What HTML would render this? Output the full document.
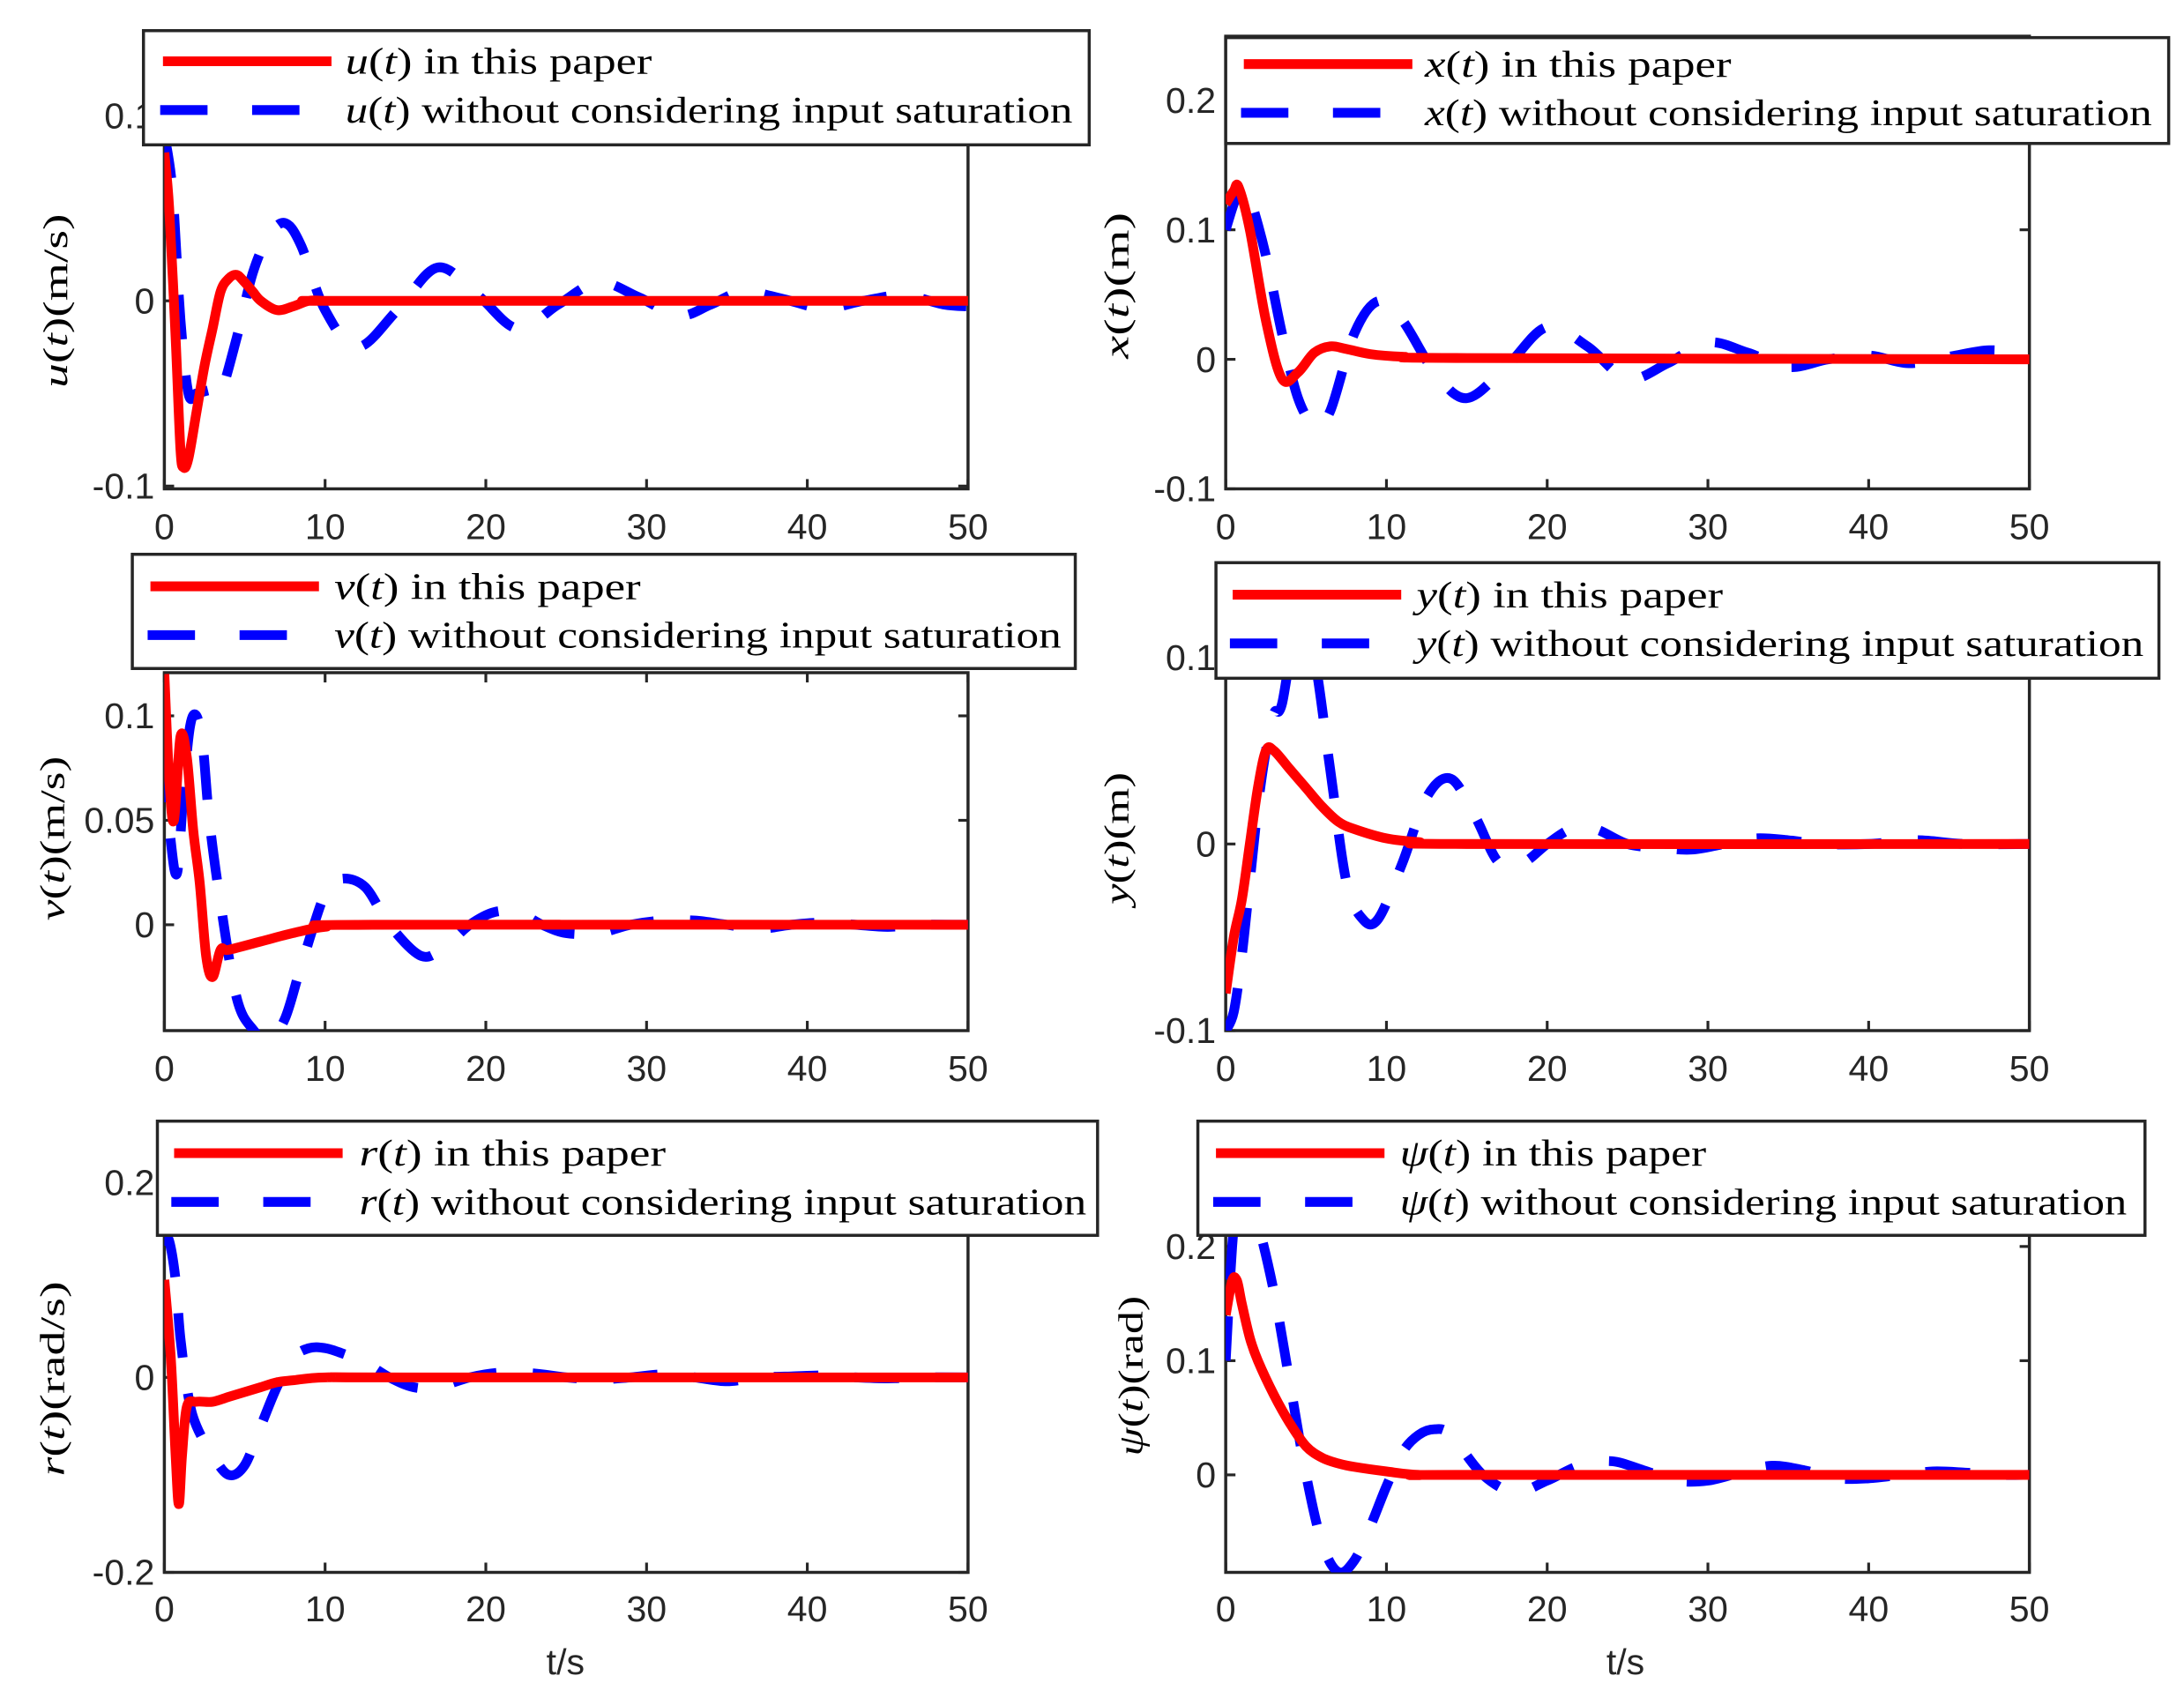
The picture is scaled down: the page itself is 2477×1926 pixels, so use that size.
<!DOCTYPE html>
<html><head><meta charset="utf-8"><style>
html,body{margin:0;padding:0;background:#fff}
svg{display:block}
.tick{font-family:"Liberation Sans",Arial,sans-serif;font-size:26px;fill:#262626}
.leg{font-family:"Liberation Serif",serif;font-size:27px;fill:#000}
.ylab{font-family:"Liberation Serif",serif;font-size:25px;fill:#000}
</style></head><body>
<svg id="fig" xmlns="http://www.w3.org/2000/svg" width="2477" height="1926" viewBox="0 0 1568 1219.2"></svg>
<script>
// ---- data ----
const uRedT=[0,0.3,0.7,1.0,1.2,1.5,2,2.5,3,3.5,4,4.5,5,5.5,6,7,8,9,10,12,50];
const uRedV=[0.08,0.05,-0.02,-0.08,-0.09,-0.085,-0.06,-0.035,-0.015,0.005,0.012,0.014,0.01,0.005,0,-0.005,-0.003,0,0,0,0];
const uBlueT=[0,0.5,1,1.5,2,3,3.5,4.5,5.5,6.5,7.5,8.5,10,12,14.5,17,19.5,22,24.5,27,29.5,32,34,36,38.5,41,43.5,46,48.5,50];
const uBlueV=[0.09,0.06,-0.01,-0.05,-0.05,-0.048,-0.05,-0.02,0.015,0.035,0.042,0.03,-0.005,-0.025,-0.005,0.018,0.003,-0.015,-0.002,0.01,0.002,-0.008,-0.002,0.005,0.001,-0.004,0,0.003,-0.002,-0.003];
const xRedT=[0,0.5,0.8,1.5,2.5,3.5,4.5,5.5,6.5,7.5,9,11,15,50];
const xRedV=[0.12,0.13,0.133,0.1,0.03,-0.015,-0.01,0.005,0.01,0.008,0.004,0.002,0.001,0];
const xBlueT=[0,0.5,1,1.5,2.5,3.5,4.5,5.5,6.5,8,9.5,11,13,15,17.5,20,22.5,25,27.5,30,32.5,35,37.5,40,42.5,45,47.5,50];
const xBlueV=[0.1,0.12,0.135,0.125,0.08,0.02,-0.03,-0.05,-0.04,0.02,0.045,0.03,-0.01,-0.03,-0.005,0.025,0.01,-0.015,-0.003,0.013,0.005,-0.006,0,0.003,-0.003,0.002,0.007,0.004];
const vRedT=[0,0.3,0.6,1,1.4,1.8,2.2,2.6,3,3.5,4,6,8,10,13,50];
const vRedV=[0.12,0.07,0.05,0.09,0.08,0.045,0.02,-0.015,-0.025,-0.012,-0.012,-0.008,-0.004,-0.001,0,0];
const vBlueT=[0,0.4,0.8,1.2,1.6,2,2.4,2.8,3.5,4.5,5.5,6.5,7.5,8.5,10,11,12.5,14,16,17.5,19,20.5,22,23.5,25,27,29,31,33,35,37,39,41,43,45,47,49,50];
const vBlueV=[0.08,0.04,0.025,0.065,0.095,0.1,0.085,0.05,0.01,-0.035,-0.05,-0.055,-0.045,-0.02,0.015,0.022,0.018,0,-0.015,-0.01,0,0.006,0.006,0,-0.004,-0.004,0,0.002,0.002,0,-0.002,0,0.001,0,-0.001,0,0,0];
const yRedT=[0,0.5,1,1.5,2,2.5,3,4,5,6,7,8,10,12,15,50];
const yRedV=[-0.08,-0.05,-0.03,0,0.03,0.05,0.05,0.04,0.03,0.02,0.012,0.008,0.003,0.001,0,0];
const yBlueT=[0,0.5,1,1.5,2,2.5,3,3.5,4.5,5.5,6.5,7.5,8.5,9.5,11,12.5,14,15.5,17,18.5,20,21.5,23,25,27,29,31,33,35,37,40,43,46,50];
const yBlueV=[-0.1,-0.09,-0.06,-0.02,0.02,0.05,0.07,0.075,0.12,0.1,0.04,-0.02,-0.04,-0.04,-0.01,0.025,0.035,0.015,-0.01,-0.01,0,0.008,0.008,0,-0.002,-0.003,0,0.003,0.002,0,0,0.002,0,0];
const rRedT=[0,0.4,0.7,0.9,1.1,1.4,2,3,4,5,6,7,8,10,15,50];
const rRedV=[0.1,0.02,-0.08,-0.13,-0.08,-0.03,-0.025,-0.025,-0.02,-0.015,-0.01,-0.005,-0.003,0,0,0];
const rBlueT=[0,0.3,0.7,1,1.5,2,3,4,5,6,7,8,9,10,11,12.5,14,15.5,17,19,21,23,25,27,29,31,33,35,37,39,41,43,45,47,50];
const rBlueV=[0.14,0.14,0.1,0.04,-0.02,-0.05,-0.08,-0.1,-0.09,-0.05,-0.01,0.02,0.03,0.03,0.025,0.015,0,-0.01,-0.01,0,0.005,0.004,0,-0.002,0,0.003,0,-0.004,0,0.001,0.002,0,-0.001,0,0];
const pRedT=[0,0.4,0.7,1,1.5,2,3,4,5,6,7,8,10,12,15,50];
const pRedV=[0.14,0.17,0.17,0.15,0.12,0.1,0.07,0.045,0.025,0.015,0.01,0.007,0.003,0,0,0];
const pBlueT=[0,0.4,0.8,1.2,2,3,4,5,6,7,8,9,10,11,12,13,14,16,18,20,22,24,26,28,30,32,34,36,38,40,42,44,46,48,50];
const pBlueV=[0.1,0.2,0.25,0.25,0.22,0.16,0.08,0,-0.06,-0.085,-0.075,-0.045,-0.01,0.02,0.035,0.04,0.035,0,-0.015,-0.005,0.008,0.012,0.004,-0.005,-0.005,0.002,0.008,0.004,-0.003,-0.003,0,0.003,0.002,0,0];
const xTicks=[0,10,20,30,40,50];
const uTicks=[-0.1,0,0.1], uTickLabels=["-0.1","0","0.1"];
const xpTicks=[-0.1,0,0.1,0.2], xpTickLabels=["-0.1","0","0.1","0.2"];
const vTicks=[0,0.05,0.1], vTickLabels=["0","0.05","0.1"];
const ypTicks=[-0.1,0,0.1], ypTickLabels=["-0.1","0","0.1"];
const rTicks=[-0.2,0,0.2], rTickLabels=["-0.2","0","0.2"];
const pTicks=[0,0.1,0.2], pTickLabels=["0","0.1","0.2"];

const NS="http://www.w3.org/2000/svg";
const svg=document.getElementById('fig');
function mk(tag,attrs,parent){const e=document.createElementNS(NS,tag);for(const k in attrs)e.setAttribute(k,attrs[k]);(parent||svg).appendChild(e);return e;}
function spline(pts){let d="M"+pts[0][0].toFixed(2)+","+pts[0][1].toFixed(2);
 for(let i=0;i<pts.length-1;i++){const p0=pts[Math.max(0,i-1)],p1=pts[i],p2=pts[i+1],p3=pts[Math.min(pts.length-1,i+2)];
  const c1=[p1[0]+(p2[0]-p0[0])/6,p1[1]+(p2[1]-p0[1])/6],c2=[p2[0]-(p3[0]-p1[0])/6,p2[1]-(p3[1]-p1[1])/6];
  d+="C"+c1[0].toFixed(2)+","+c1[1].toFixed(2)+" "+c2[0].toFixed(2)+","+c2[1].toFixed(2)+" "+p2[0].toFixed(2)+","+p2[1].toFixed(2);}
 return d;}

const panels=[
 {id:'u',x0:118,x1:695,top:30,bot:351,ref0:216,refV:0.1,refY:83,ticks:uTicks,labels:uTickLabels,rT:uRedT,rV:uRedV,bT:uBlueT,bV:uBlueV,
  leg:{x:103,y:22,w:679,h:82,lx:117,tx:248,l1:44,l2:79},v:'u',ylab:'(t)(m/s)',ylx:40,yly:216,ylw:125,xly:378},
 {id:'x',x0:880,x1:1457,top:26,bot:351,ref0:258,refV:0.1,refY:165,ticks:xpTicks,labels:xpTickLabels,rT:xRedT,rV:xRedV,bT:xBlueT,bV:xBlueV,
  leg:{x:880,y:27,w:677,h:76,lx:893,tx:1023,l1:46,l2:81},v:'x',ylab:'(t)(m)',ylx:802,yly:205,ylw:105,xly:378},
 {id:'v',x0:118,x1:695,top:483,bot:740,ref0:664,refV:0.05,refY:589,ticks:vTicks,labels:vTickLabels,rT:vRedT,rV:vRedV,bT:vBlueT,bV:vBlueV,
  leg:{x:95,y:398,w:677,h:82,lx:108,tx:240,l1:421,l2:456},v:'v',ylab:'(t)(m/s)',ylx:38,yly:602,ylw:118,xly:767},
 {id:'y',x0:880,x1:1457,top:405,bot:740,ref0:606,refV:0.1,refY:472,ticks:ypTicks,labels:ypTickLabels,rT:yRedT,rV:yRedV,bT:yBlueT,bV:yBlueV,
  leg:{x:873,y:404,w:677,h:83,lx:885,tx:1017,l1:427,l2:462},v:'y',ylab:'(t)(m)',ylx:802,yly:602,ylw:95,xly:767},
 {id:'r',x0:118,x1:695,top:814,bot:1129,ref0:989,refV:0.2,refY:849,ticks:rTicks,labels:rTickLabels,rT:rRedT,rV:rRedV,bT:rBlueT,bV:rBlueV,
  leg:{x:113,y:805,w:675,h:82,lx:125,tx:258,l1:828,l2:863},v:'r',ylab:'(t)(rad/s)',ylx:38,yly:990,ylw:140,xly:1155},
 {id:'psi',x0:880,x1:1457,top:851,bot:1129,ref0:1059,refV:0.1,refY:977,ticks:pTicks,labels:pTickLabels,rT:pRedT,rV:pRedV,bT:pBlueT,bV:pBlueV,
  leg:{x:860,y:805,w:680,h:82,lx:873,tx:1005,l1:828,l2:863},v:'ψ',ylab:'(t)(rad)',ylx:812,yly:988,ylw:115,xly:1155}
];

panels.forEach(p=>{
 const sx=t=>p.x0+(t/50)*(p.x1-p.x0);
 const k=(p.ref0-p.refY)/p.refV;
 const sy=v=>p.ref0-v*k;
 const g=mk('g',{});
 
 
 const cp=mk('clipPath',{id:'clip-'+p.id},g);
 mk('rect',{x:p.x0,y:p.top,width:p.x1-p.x0,height:p.bot-p.top},cp);
 const box=mk('rect',{x:p.x0,y:p.top,width:p.x1-p.x0,height:p.bot-p.top,fill:'#fff',stroke:'#262626','stroke-width':2.2},g);
 
 
 xTicks.forEach(t=>{const X=sx(t);
  mk('line',{x1:X,x2:X,y1:p.bot,y2:p.bot-7,stroke:'#262626','stroke-width':2},g);
  mk('line',{x1:X,x2:X,y1:p.top,y2:p.top+7,stroke:'#262626','stroke-width':2},g);
  const tl=mk('text',{x:X,y:p.xly+9,class:'tick','text-anchor':'middle'},g);tl.textContent=String(t);
  
  
 });
 p.ticks.forEach((v,i)=>{const Y=sy(v);
  mk('line',{x1:p.x0,x2:p.x0+7,y1:Y,y2:Y,stroke:'#262626','stroke-width':2},g);
  mk('line',{x1:p.x1,x2:p.x1-7,y1:Y,y2:Y,stroke:'#262626','stroke-width':2},g);
  const tl=mk('text',{x:p.x0-7,y:Y+9,class:'tick','text-anchor':'end'},g);tl.textContent=p.labels[i];
  
  
 });
 const bl=mk('path',{d:spline(p.bT.map((t,i)=>[sx(t),sy(p.bV[i])])),fill:'none',stroke:'#0000ff','stroke-width':7,'stroke-dasharray':'32 26','clip-path':'url(#clip-'+p.id+')'},g);
 
 
 const rl=mk('path',{d:spline(p.rT.map((t,i)=>[sx(t),sy(p.rV[i])])),fill:'none',stroke:'#ff0000','stroke-width':7,'stroke-linejoin':'round','clip-path':'url(#clip-'+p.id+')'},g);
 
 
 const yl=mk('text',{x:0,y:0,class:'ylab','text-anchor':'middle',transform:`translate(${p.ylx+8},${p.yly}) rotate(-90)`,textLength:p.ylw,lengthAdjust:'spacingAndGlyphs'},g);
 yl.innerHTML=`<tspan font-style="italic">${p.v}</tspan>`+p.ylab.replace('(t)','(<tspan font-style="italic">t</tspan>)');
 
 
 const L=p.leg;
 const lg=mk('g',{},g);
 
 
 mk('rect',{x:L.x,y:L.y,width:L.w,height:L.h,fill:'#fff',stroke:'#262626','stroke-width':2.2},lg);
 mk('line',{x1:L.lx,x2:L.lx+121,y1:L.l1,y2:L.l1,stroke:'#ff0000','stroke-width':7},lg);
 mk('line',{x1:L.lx-2,x2:L.lx+98,y1:L.l2,y2:L.l2,stroke:'#0000ff','stroke-width':7,'stroke-dasharray':'34 32'},lg);
 const t1=mk('text',{x:L.tx,y:L.l1+9,class:'leg',textLength:220,lengthAdjust:'spacingAndGlyphs'},lg);
 t1.innerHTML=`<tspan font-style="italic">${p.v}</tspan>(<tspan font-style="italic">t</tspan>) in this paper`;
 
 
 const t2=mk('text',{x:L.tx,y:L.l2+9,class:'leg',textLength:522,lengthAdjust:'spacingAndGlyphs'},lg);
 t2.innerHTML=`<tspan font-style="italic">${p.v}</tspan>(<tspan font-style="italic">t</tspan>) without considering input saturation`;
 
 
});
[406,1167].forEach(x=>{const t=mk('text',{x:x,y:1202,class:'tick','text-anchor':'middle'});t.textContent='t/s';
 
 });
</script>
</body></html>
